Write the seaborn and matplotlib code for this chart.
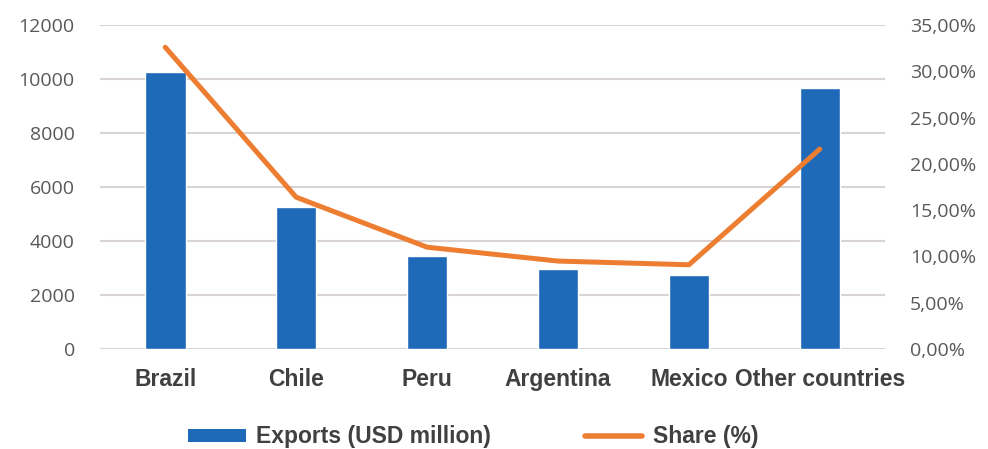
import numpy as np
import pandas as pd
import seaborn as sns
import matplotlib.pyplot as plt
from matplotlib.patches import Patch
from matplotlib.lines import Line2D
from matplotlib.ticker import FuncFormatter

# Values
countries = ['Brazil', 'Chile', 'Peru', 'Argentina', 'Mexico', 'Other countries']
exports = [10250, 5250, 3450, 2950, 2750, 9650]
share = [32.6, 16.4, 11.0, 9.5, 9.1, 21.6]

df = pd.DataFrame({'country': countries, 'exports': exports, 'share': share})

sns.set_style('white')
plt.rcParams['font.family'] = ['Liberation Sans', 'DejaVu Sans']

BLUE = '#1F69B9'
ORANGE = '#ED7D31'
GRID = '#D9D4D2'
TICK = '#595959'
TICK_FONT = ['Open Sans', 'DejaVu Sans']

fig = plt.figure(figsize=(9.88, 4.49), dpi=100)
ax = fig.add_axes([0.101, 0.2227, 0.795, 0.7216])

sns.barplot(data=df, x='country', y='exports', color=BLUE, width=0.31,
            saturation=1, ax=ax)
ax.set_ylim(0, 12000)
ax.set_yticks(np.arange(0, 12001, 2000))
ax.set_xlim(-0.5, len(countries) - 0.5)
ax.yaxis.grid(True, color=GRID, linewidth=1.5)
ax.set_axisbelow(True)
ax.set_xlabel('')
ax.set_ylabel('')
for s in ax.spines.values():
    s.set_visible(False)
ax.tick_params(axis='y', length=0, pad=18, labelsize=14, labelcolor=TICK)
ax.tick_params(axis='x', length=0, pad=14)
for lbl in ax.get_yticklabels():
    lbl.set_fontfamily(TICK_FONT)
for lbl in ax.get_xticklabels():
    lbl.set_fontweight('bold')
    lbl.set_fontsize(16.5)
    lbl.set_color('#404040')

ax2 = ax.twinx()
sns.lineplot(data=df, x='country', y='share', color=ORANGE, linewidth=3.6,
             sort=False, ax=ax2)
ax2.set_ylim(0, 35)
ax2.set_yticks(np.arange(0, 36, 5))
ax2.yaxis.set_major_formatter(FuncFormatter(lambda v, p: f'{v:.2f}'.replace('.', ',') + '%'))
ax2.set_ylabel('')
for s in ax2.spines.values():
    s.set_visible(False)
ax2.tick_params(axis='y', length=0, pad=18, labelsize=14, labelcolor=TICK)
for lbl in ax2.get_yticklabels():
    lbl.set_fontfamily(TICK_FONT)

handles = [Patch(facecolor=BLUE, edgecolor='none'),
           Line2D([0], [0], color=ORANGE, linewidth=4)]
leg = fig.legend(handles, ['Exports (USD million)', 'Share (%)'],
                 loc='center', bbox_to_anchor=(0.479, 0.027), ncol=2, frameon=False,
                 handlelength=2.5, handleheight=0.5, handletextpad=0.45,
                 columnspacing=4.1,
                 prop={'weight': 'bold', 'size': 16.5})
for t in leg.get_texts():
    t.set_color('#404040')

fig.savefig('out.png', dpi=100)
